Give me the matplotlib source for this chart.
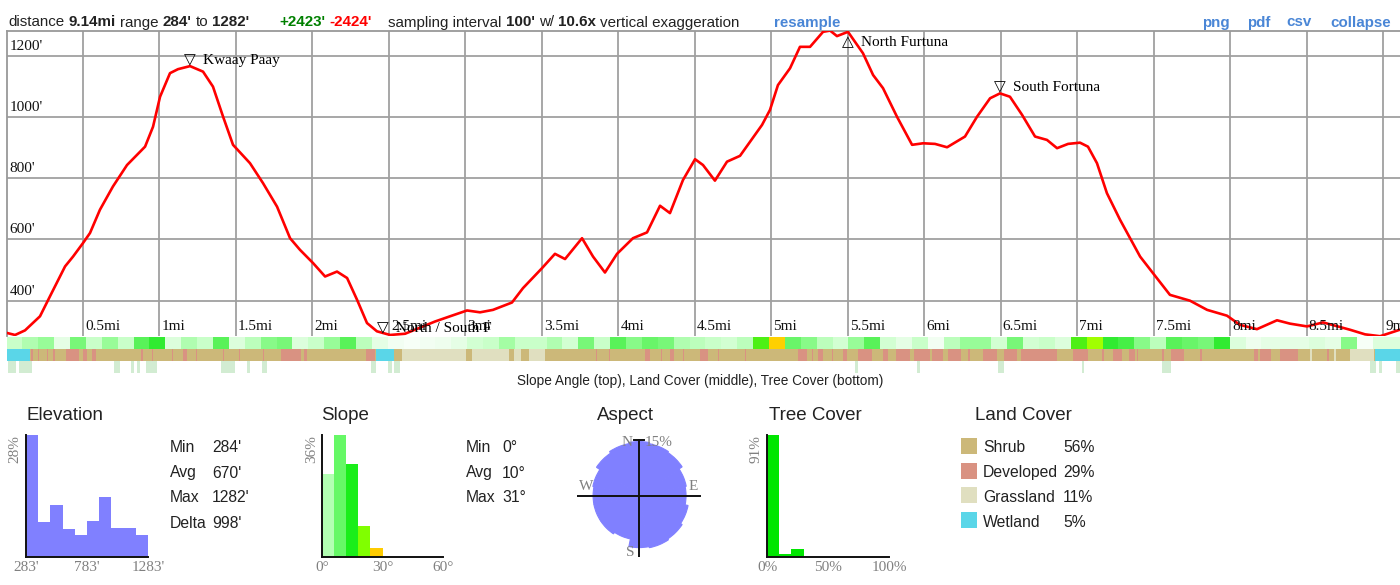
import numpy as np
import matplotlib
matplotlib.use('Agg')
import matplotlib.pyplot as plt
from matplotlib.colors import LinearSegmentedColormap

# ---- elevation profile (miles, feet) ----
DIST_MI = [0.00, 0.056, 0.121, 0.219, 0.284, 0.383, 0.435, 0.500, 0.546, 0.611,
           0.696, 0.788, 0.906, 0.958, 1.004, 1.069, 1.121, 1.200, 1.285, 1.350,
           1.416, 1.481, 1.592, 1.677, 1.769, 1.854, 1.919, 2.004, 2.083, 2.161,
           2.227, 2.292, 2.357, 2.422, 2.508, 2.606, 2.704, 2.802, 2.900, 3.011,
           3.096, 3.181, 3.305, 3.377, 3.501, 3.586, 3.652, 3.763, 3.835, 3.913,
           3.992, 4.096, 4.188, 4.273, 4.338, 4.423, 4.502, 4.554, 4.632, 4.711,
           4.796, 4.940, 4.992, 5.044, 5.123, 5.188, 5.254, 5.339, 5.385, 5.430,
           5.502, 5.600, 5.666, 5.731, 5.822, 5.921, 5.993, 6.071, 6.150, 6.267,
           6.346, 6.431, 6.496, 6.561, 6.640, 6.725, 6.803, 6.869, 6.941, 7.019,
           7.071, 7.130, 7.195, 7.281, 7.412, 7.496, 7.607, 7.738, 7.850, 7.980,
           8.065, 8.176, 8.307, 8.392, 8.503, 8.608, 8.719, 8.785, 8.883, 8.981,
           9.079, 9.140]
ELEV_FT = [295, 288, 303, 349, 414, 512, 544, 588, 621, 697,
           773, 843, 903, 968, 1066, 1143, 1156, 1166, 1148, 1099,
           1001, 909, 849, 784, 707, 604, 566, 523, 479, 495,
           474, 403, 327, 300, 288, 292, 312, 332, 349, 368,
           362, 370, 394, 441, 506, 553, 536, 604, 544, 492,
           553, 604, 623, 710, 686, 794, 862, 843, 792, 854,
           873, 974, 1023, 1104, 1159, 1229, 1229, 1278, 1282, 1264,
           1278, 1208, 1137, 1094, 1001, 909, 914, 912, 901, 936,
           1001, 1061, 1077, 1066, 1007, 936, 925, 898, 912, 916,
           903, 849, 751, 664, 544, 490, 419, 400, 370, 351,
           321, 307, 336, 325, 316, 329, 314, 305, 290, 284,
           300, 310]

PEAK_NAMES = ['Kwaay Paay', 'North / South F', 'North Furtuna', 'South Fortuna']
PEAK_MI = [1.200, 2.460, 5.500, 6.496]
PEAK_FT = [1166, 290, 1278, 1077]
PEAK_UP = [False, False, True, False]

# ---- strips under the profile ----
SLOPE_DEG = [8, 10, 12, 5, 14, 8, 12, 8, 16, 18, 6, 10, 8, 16, 6, 9, 13, 14, 6, 8,
             12, 16, 9, 5, 3, 2, 3, 4, 5, 7, 8, 11, 8, 8, 10, 7, 14, 8, 16, 13,
             15, 14, 10,
             9, 8, 7, 9, 20, 26, 15, 13, 9, 7, 12, 16, 7, 5, 8, 3, 9, 12, 12, 7,
             14, 7, 8, 6, 20, 22, 18, 17, 13, 9, 16, 15, 14, 18, 6, 4, 5, 5, 5, 6,
             5, 13, 2, 6, 6]

DEV_START = [0.160, 0.206, 0.265, 0.304, 0.389, 0.500, 0.559, 0.879, 0.951, 1.082,
             1.154, 1.239, 1.416, 1.520, 1.677, 1.795, 1.945, 2.351, 3.854, 3.939,
             4.175, 4.279, 4.338, 4.423, 4.535, 4.652, 4.829, 5.175, 5.267, 5.306,
             5.397, 5.469, 5.567, 5.731, 5.816, 5.934, 6.051, 6.156, 6.287, 6.385,
             6.522, 6.633, 6.973, 7.163, 7.235, 7.339, 7.392, 7.555, 7.614, 7.804,
             8.157, 8.196, 8.327, 8.634]
DEV_END = [0.173, 0.213, 0.271, 0.317, 0.474, 0.526, 0.585, 0.892, 0.958, 1.089,
           1.180, 1.246, 1.422, 1.527, 1.684, 1.926, 1.965, 2.409, 3.861, 3.946,
           4.207, 4.286, 4.364, 4.430, 4.587, 4.659, 4.835, 5.234, 5.273, 5.339,
           5.404, 5.496, 5.659, 5.764, 5.908, 6.038, 6.123, 6.241, 6.300, 6.476,
           6.607, 6.869, 7.071, 7.176, 7.294, 7.379, 7.398, 7.568, 7.699, 7.817,
           8.183, 8.268, 8.445, 8.647]
GRASS_START = [2.586, 3.044, 3.318, 3.416, 8.520, 8.680, 8.785]
GRASS_END = [3.004, 3.286, 3.364, 3.521, 8.535, 8.690, 8.942]
WET_START = [0.000, 2.416, 8.948]
WET_END = [0.154, 2.534, 9.140]

TREE_START = [0.010, 0.082, 0.703, 0.814, 0.853, 0.912, 1.402, 1.572, 1.671, 2.383,
              2.494, 2.534, 5.548, 5.953, 6.483, 7.032, 7.555, 8.915, 8.974, 9.085]
TREE_END = [0.062, 0.167, 0.742, 0.834, 0.873, 0.984, 1.494, 1.592, 1.703, 2.416,
            2.521, 2.573, 5.568, 5.973, 6.522, 7.045, 7.614, 8.954, 8.994, 9.111]

# ---- summary panels ----
ELEV_EDGES = [283, 383, 483, 583, 683, 783, 883, 983, 1083, 1183, 1283]
ELEV_PCT = [28, 8.1, 11.9, 6.4, 5.0, 8.3, 13.8, 6.6, 6.6, 5.0]
SLOPE_EDGES = [0, 6, 12, 18, 24, 30, 36, 42, 48, 54, 60]
SLOPE_PCT = [24.5, 36, 27.5, 9.2, 2.8, 0, 0, 0, 0, 0]
TREE_EDGES = [0, 10, 20, 30, 40, 50, 60, 70, 80, 90, 100]
TREE_PCT = [91, 2.5, 6.0, 0, 0, 0, 0, 0, 0, 0]
ASPECT_DEG = [0, 22.5, 45, 67.5, 90, 112.5, 135, 157.5, 180, 202.5, 225, 247.5,
              270, 292.5, 315, 337.5]
ASPECT_PCT = [14.5, 14.2, 13.9, 12.9, 12.6, 13.4, 13.9, 14.2, 13.9, 11.8, 12.3, 12.3,
              12.3, 12.6, 13.7, 14.2]
LAND_NAMES = ['Shrub', 'Developed', 'Grassland', 'Wetland']
LAND_PCT = ['56%', '29%', '11%', '5%']
LAND_COLORS = ['#ccb879', '#d99282', '#e0dfc0', '#5ad6e8']

SANS = 'Liberation Sans'
SERIF = ['Liberation Serif', 'DejaVu Sans']

W, H = 1400, 585
fig = plt.figure(figsize=(W / 100, H / 100), dpi=100)
renderer = fig.canvas.get_renderer()


def box(x0, y0, x1, y1):
    return [x0 / W, 1 - y1 / H, (x1 - x0) / W, (y1 - y0) / H]


def ftext(x, y, s, **kw):
    return fig.text(x / W, 1 - y / H, s, **kw)


# ---- header line ----
DARK = '#222222'
header_groups = [
    (8, [('distance', 'normal', DARK), ('9.14mi', 'bold', DARK), ('range', 'normal', DARK),
         ("284'", 'bold', DARK), ('to', 'normal', DARK), ("1282'", 'bold', DARK)]),
    (279, [("+2423'", 'bold', '#008000'), ("-2424'", 'bold', '#ff0000')]),
    (388, [('sampling interval', 'normal', DARK), ("100'", 'bold', DARK),
           ('w/', 'normal', DARK), ('10.6x', 'bold', DARK),
           ('vertical exaggeration', 'normal', DARK)]),
    (774, [('resample', 'bold', '#4a86d6')]),
]
for x, pieces in header_groups:
    for s, wt, c in pieces:
        t = ftext(x, 26.5, s, fontsize=10.9, family=SANS, fontweight=wt, color=c,
                  va='baseline')
        bb = t.get_window_extent(renderer)
        x = bb.x1 + 4.2
for x, s in [(1202, 'png'), (1247, 'pdf'), (1286, 'csv'), (1330, 'collapse')]:
    ftext(x, 26.5, s, fontsize=10.9, family=SANS, fontweight='bold', color='#4a86d6',
          va='baseline')

# ---- main profile ----
ax = fig.add_axes(box(6.5, 30.6, 1404.4, 336.2))
ax.set_xlim(0, 9.14)
ax.set_ylim(284, 1282)
xt = np.arange(0.5, 9.01, 0.5)
ax.set_xticks(xt)
ax.set_yticks([400, 600, 800, 1000, 1200])
ax.grid(color='#a0a0a0', lw=1.3)
ax.tick_params(length=0, labelbottom=False, labelleft=False)
for s in ['right', 'bottom']:
    ax.spines[s].set_visible(False)
for s in ['top', 'left']:
    ax.spines[s].set_color('#999999')
    ax.spines[s].set_linewidth(1.3)
ax.plot(DIST_MI, ELEV_FT, color='#ff0000', lw=1.9, zorder=3, solid_joinstyle='round')

for t in xt:
    ax.annotate(f'{t:g}mi', xy=(t, 284), xytext=(1.5, 2.5), textcoords='offset points',
                ha='left', va='bottom', fontsize=11, family=SERIF, color='#111111',
                annotation_clip=False)
for v in [400, 600, 800, 1000, 1200]:
    ax.annotate(f"{v}'", xy=(0, v), xytext=(2.2, 2.2), textcoords='offset points',
                ha='left', va='bottom', fontsize=11, family=SERIF, color='#111111')

for name, m, f, up in zip(PEAK_NAMES, PEAK_MI, PEAK_FT, PEAK_UP):
    dy = -10 if up else 1.5
    ax.annotate('\u25b3' if up else '\u25bd', xy=(m, f), xytext=(0, dy),
                textcoords='offset points', ha='center', va='baseline', fontsize=11,
                family=SERIF, zorder=5)
    ax.annotate(name, xy=(m, f), xytext=(9.5, dy), textcoords='offset points',
                ha='left', va='baseline', fontsize=11, family=SERIF, zorder=5)

# ---- strips ----
sax = fig.add_axes(box(6.5, 336.5, 1404.4, 372.8))
sax.set_xlim(0, 9.14)
sax.set_ylim(3, 0)
sax.axis('off')
slope_cmap = LinearSegmentedColormap.from_list(
    'slope', [(0, '#ffffff'), (4 / 36, '#eefeee'), (8 / 36, '#c8ffc8'),
              (12 / 36, '#98fc98'), (16 / 36, '#58f258'), (19 / 36, '#20e820'),
              (22 / 36, '#a0ff00'), (26 / 36, '#ffd000'), (30 / 36, '#ffa000'),
              (1, '#ff6000')])
edges = np.linspace(0, 9.14, len(SLOPE_DEG) + 1)
sax.pcolormesh(edges, [0, 1], np.array([SLOPE_DEG]), cmap=slope_cmap, vmin=0, vmax=36)
sax.broken_barh([(0, 9.14)], (1, 1), color=LAND_COLORS[0], lw=0)
sax.broken_barh([(a, b - a) for a, b in zip(DEV_START, DEV_END)], (1, 1),
                color=LAND_COLORS[1], lw=0)
sax.broken_barh([(a, b - a) for a, b in zip(GRASS_START, GRASS_END)], (1, 1),
                color=LAND_COLORS[2], lw=0)
sax.broken_barh([(a, b - a) for a, b in zip(WET_START, WET_END)], (1, 1),
                color=LAND_COLORS[3], lw=0)
sax.broken_barh([(a, b - a) for a, b in zip(TREE_START, TREE_END)], (2, 1),
                color='#d2ecd2', lw=0)
ftext(700, 381, 'Slope Angle (top), Land Cover (middle), Tree Cover (bottom)',
      fontsize=9.8, family=SANS, color=DARK, ha='center', va='center')


# ---- histograms ----
def hist(x0, x1, edges, pcts, colors, labels, toplabel, title, tx, center):
    hax = fig.add_axes(box(x0, 435, x1, 557))
    hax.bar(edges[:-1], pcts, width=np.diff(edges), align='edge', color=colors, lw=0)
    hax.set_xlim(edges[0], edges[-1])
    hax.set_ylim(0, max(pcts))
    for s in ['top', 'right']:
        hax.spines[s].set_visible(False)
    for s in ['left', 'bottom']:
        hax.spines[s].set_linewidth(1.4)
        hax.spines[s].set_color('#111111')
    hax.set_xticks([])
    hax.set_yticks([])
    for v, lab in labels:
        hax.annotate(lab, xy=(v, 0), xycoords=('data', 'axes fraction'), xytext=(0, -3),
                     textcoords='offset points', ha='center', va='top', fontsize=11,
                     family=SERIF, color='#808080', annotation_clip=False)
    hax.annotate(toplabel, xy=(0, 1), xycoords='axes fraction', xytext=(-3, 0),
                 textcoords='offset points', ha='right', va='top', rotation=90,
                 fontsize=11, family=SERIF, color='#808080')
    ftext(tx, 416, title, fontsize=13.5, family=SANS, color=DARK,
          ha='center' if center else 'left', va='center')


hist(26, 148, ELEV_EDGES, ELEV_PCT, '#8080ff',
     [(283, "283'"), (783, "783'"), (1283, "1283'")], '28%', 'Elevation', 27, False)
slope_cols = ['#b3ffb3', '#66f866', '#1aee1a', '#80ff00', '#ffcc00'] + ['#ffffff'] * 5
hist(322, 443, SLOPE_EDGES, SLOPE_PCT, slope_cols,
     [(0, '0\u00b0'), (30, '30\u00b0'), (60, '60\u00b0')], '36%', 'Slope', 321, False)
hist(767, 889, TREE_EDGES, TREE_PCT, '#00e600',
     [(0, '0%'), (50, '50%'), (100, '100%')], '91%', 'Tree Cover', 815, True)

for i, (k, v) in enumerate([('Min', "284'"), ('Avg', "670'"), ('Max', "1282'"),
                            ('Delta', "998'")]):
    ftext(170, 448 + 25 * i, k, fontsize=11.3, family=SANS, color=DARK, va='center')
    ftext(212, 448 + 25 * i, v, fontsize=11.3, family=SANS, color=DARK, va='center')
for i, (k, v) in enumerate([('Min', '0\u00b0'), ('Avg', '10\u00b0'), ('Max', '31\u00b0')]):
    ftext(466, 448 + 25 * i, k, fontsize=11.3, family=SANS, color=DARK, va='center')
    ftext(502, 448 + 25 * i, v, fontsize=11.3, family=SANS, color=DARK, va='center')

# ---- aspect rose ----
cx, cy, R = 639, 495.7, 61.6
pax = fig.add_axes(box(cx - R, cy - R, cx + R, cy + R), projection='polar')
pax.set_theta_zero_location('N')
pax.set_theta_direction(-1)
pax.bar(np.deg2rad(ASPECT_DEG), ASPECT_PCT, width=2 * np.pi / len(ASPECT_DEG),
        color='#8080ff', edgecolor='#8080ff', lw=0.8)
pax.set_ylim(0, 16.5)
pax.axis('off')
cax = fig.add_axes(box(cx - R, cy - R, cx + R, cy + R))
cax.set_xlim(-16.5, 16.5)
cax.set_ylim(-16.5, 16.5)
cax.axis('off')
cax.plot([0, 0], [-16.4, 14.9], color='#111111', lw=1.4)
cax.plot([-16.6, 16.3], [0, 0], color='#111111', lw=1.4)
cax.plot([-1.3, 1.3], [14.9, 14.9], color='#111111', lw=1.4)
ftext(627, 443, 'N', fontsize=11, family=SERIF, color='#808080', ha='center', va='center')
ftext(645, 443, '15%', fontsize=11, family=SERIF, color='#808080', ha='left', va='center')
ftext(586, 486, 'W', fontsize=11, family=SERIF, color='#808080', ha='center', va='center')
ftext(693, 486, 'E', fontsize=11, family=SERIF, color='#808080', ha='center', va='center')
ftext(630, 552, 'S', fontsize=11, family=SERIF, color='#808080', ha='center', va='center')
ftext(625, 416, 'Aspect', fontsize=13.5, family=SANS, color=DARK, ha='center', va='center')

# ---- land cover legend ----
ftext(975, 416, 'Land Cover', fontsize=13.5, family=SANS, color=DARK, va='center')
lax = fig.add_axes(box(0, 0, W, H), facecolor='none')
lax.set_xlim(0, W)
lax.set_ylim(H, 0)
lax.axis('off')
for i, (n, p, c) in enumerate(zip(LAND_NAMES, LAND_PCT, LAND_COLORS)):
    y = 446 + 24.7 * i
    lax.add_patch(plt.Rectangle((961, y - 8), 16, 16, color=c, lw=0))
    ftext(983, y + 2, n, fontsize=11.3, family=SANS, color=DARK, va='center')
    ftext(1063, y + 2, p, fontsize=11.3, family=SANS, color=DARK, va='center')

fig.savefig('out.png', dpi=100)
